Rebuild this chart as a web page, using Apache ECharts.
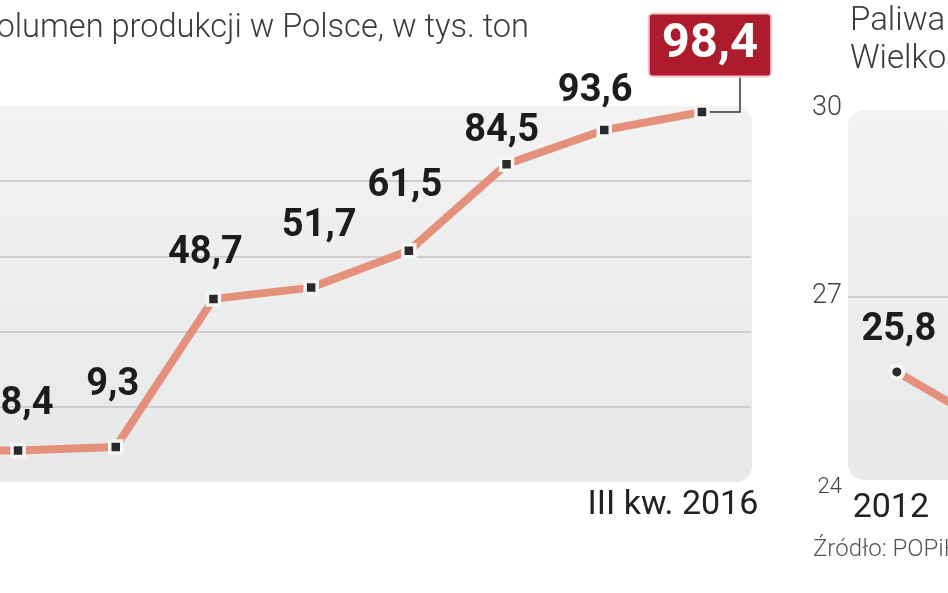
<!DOCTYPE html>
<html>
<head>
<meta charset="utf-8">
<script src="https://cdn.jsdelivr.net/npm/echarts@6/dist/echarts.min.js"></script>
<style>
html,body{margin:0;padding:0;background:#fff;}
#c{width:948px;height:593px;}
</style>
</head>
<body>
<div id="c"></div>
<script>
// ---- data ----
const prodCategories = ['', '', '', '', '', '', '', '', 'III kw. 2016'];
const prodValues = [8.2, 8.4, 9.3, 48.7, 51.7, 61.5, 84.5, 93.6, 98.4];
const prodTitle = 'Wolumen produkcji w Polsce, w tys. ton';

const fuelCategories = ['2012', '2013'];
const fuelValues = [25.8, 24.9];
const fuelTitle1 = 'Paliwa';
const fuelTitle2 = 'Wielkość';
const sourceText = 'Źródło: POPiHN';

// ---- layout (not data) ----
const labelOffsets = [[0,-46],[9,-46],[-3,-62],[-8,-45],[8,-61],[-4,-64],[-5,-33],[-9,-39],[8,-67]];
const LINE_COLOR = '#e5907b';
const fmt = v => String(v).replace('.', ',');
const FONT = 'Roboto, "Liberation Sans", sans-serif';

const lastIdx = prodValues.length - 1;

const prodData = prodValues.map((v, i) => {
  if (i === lastIdx) {
    return {
      value: v,
      label: {
        offset: labelOffsets[i],
        color: '#ffffff',
        fontSize: 49,
        lineHeight: 52,
        backgroundColor: '#ae1b2d',
        borderColor: '#ecc9cc',
        borderWidth: 2,
        borderRadius: 3,
        padding: [5, 12, 4, 12]
      }
    };
  }
  return { value: v, label: { offset: labelOffsets[i] } };
});

const option = {
  animation: false,
  backgroundColor: '#ffffff',
  grid: [
    { left: -128.5, top: 106, width: 879.3, height: 376, containLabel: false, outerBoundsMode: 'none' },
    { left: 848, top: 108, width: 195.4, height: 377, containLabel: false, outerBoundsMode: 'none' }
  ],
  xAxis: [
    {
      type: 'category', gridIndex: 0, data: prodCategories, boundaryGap: true,
      axisLine: { show: false }, axisTick: { show: false },
      axisLabel: {
        show: true, interval: 0, margin: 6,
        formatter: v => v ? '{a|' + v + '}' : '',
        rich: { a: { fontFamily: FONT, fontSize: 34, color: '#222', padding: [0, 58, 0, 0] } }
      }
    },
    {
      type: 'category', gridIndex: 1, data: fuelCategories, boundaryGap: true,
      axisLine: { show: false }, axisTick: { show: false },
      axisLabel: {
        show: true, interval: 0, margin: 6,
        fontFamily: FONT, fontSize: 34, color: '#222', padding: [0, 12, 0, 0]
      }
    }
  ],
  yAxis: [
    {
      type: 'value', gridIndex: 0, min: 0, max: 100, interval: 20,
      axisLine: { show: false }, axisTick: { show: false }, axisLabel: { show: false },
      splitLine: { show: true, lineStyle: { width: 2, color: ['rgba(0,0,0,0)', '#cfcfcf', '#cfcfcf', '#cfcfcf', '#cfcfcf', 'rgba(0,0,0,0)'] } }
    },
    {
      type: 'value', gridIndex: 1, min: 24, max: 30, interval: 3,
      axisLine: { show: false }, axisTick: { show: false },
      axisLabel: {
        show: true, margin: 6,
        formatter: v => v === 24 ? '{s|' + v + '}' : '{n|' + v + '}',
        rich: {
          n: { fontFamily: FONT, fontWeight: 300, fontSize: 27, color: '#444' },
          s: { fontFamily: FONT, fontWeight: 300, fontSize: 22, color: '#444', padding: [4, 0, 0, 0] }
        }
      },
      splitLine: { show: true, lineStyle: { width: 2, color: ['rgba(0,0,0,0)', '#cfcfcf', 'rgba(0,0,0,0)'] } }
    }
  ],
  graphic: [
    {
      type: 'rect', id: 'bgL', z: -10, silent: true,
      shape: { x: -30, y: 106, width: 782, height: 376, r: 16 },
      style: { fill: new echarts.graphic.LinearGradient(0, 0, 0, 1, [
        { offset: 0, color: '#f2f2f2' }, { offset: 1, color: '#e7e8e8' }]) }
    },
    {
      type: 'rect', id: 'bgR', z: -10, silent: true,
      shape: { x: 848, y: 110, width: 160, height: 370, r: 16 },
      style: { fill: new echarts.graphic.LinearGradient(0, 0, 0, 1, [
        { offset: 0, color: '#f2f2f2' }, { offset: 1, color: '#e7e8e8' }]) }
    },
    {
      type: 'text', id: 'titleL', silent: true,
      style: { text: prodTitle, x: 529, y: 45, textAlign: 'right', textVerticalAlign: 'bottom',
        font: '300 32.6px ' + FONT, fill: '#3a3a3a' }
    },
    {
      type: 'text', id: 'titleR1', silent: true,
      style: { text: fuelTitle1, x: 850, y: 38, textAlign: 'left', textVerticalAlign: 'bottom',
        font: '300 33px ' + FONT, fill: '#3a3a3a' }
    },
    {
      type: 'text', id: 'titleR2', silent: true,
      style: { text: fuelTitle2, x: 850, y: 76, textAlign: 'left', textVerticalAlign: 'bottom',
        font: '300 33px ' + FONT, fill: '#3a3a3a' }
    },
    {
      type: 'text', id: 'src', silent: true,
      style: { text: sourceText, x: 813, y: 562, textAlign: 'left', textVerticalAlign: 'bottom',
        font: '300 24px ' + FONT, fill: '#555' }
    }
  ],
  series: [
    {
      type: 'line', xAxisIndex: 0, yAxisIndex: 0, data: prodData,
      lineStyle: { color: LINE_COLOR, width: 8 },
      symbol: 'rect', symbolSize: 12, showAllSymbol: true,
      itemStyle: { color: '#2a2a2a', borderColor: '#f5f5f5', borderWidth: 3.5 },
      label: {
        show: true, position: 'inside', formatter: p => fmt(p.value),
        fontFamily: FONT, fontWeight: 'bold', fontSize: 38, color: '#1c1c1c'
      },
      z: 3
    },
    {
      type: 'line', xAxisIndex: 1, yAxisIndex: 1,
      data: fuelValues.map((v, i) => ({ value: v, label: { show: i === 0 } })),
      lineStyle: { color: LINE_COLOR, width: 8 },
      symbol: 'circle', symbolSize: 13, showAllSymbol: true,
      itemStyle: { color: '#2a2a2a', borderColor: '#f5f5f5', borderWidth: 4 },
      label: {
        show: true, position: 'inside', offset: [2, -41], formatter: p => fmt(p.value),
        fontFamily: FONT, fontWeight: 'bold', fontSize: 38, color: '#1c1c1c'
      },
      z: 3
    }
  ]
};

const chart = echarts.init(document.getElementById('c'), null, { renderer: 'canvas' });
chart.setOption(option);

// leader line of the highlighted last value
const pt = chart.convertToPixel({ seriesIndex: 0 }, [lastIdx, prodValues[lastIdx]]);
const off = labelOffsets[lastIdx];
const boxBottom = pt[1] + off[1] + 32.5;
chart.setOption({
  graphic: [{
    type: 'polyline', id: 'leader', z: 2, silent: true,
    shape: { points: [[pt[0], pt[1]], [pt[0] + 38, pt[1]], [pt[0] + 38, boxBottom]] },
    style: { stroke: '#333', lineWidth: 1.5, fill: null }
  }]
});
</script>
</body>
</html>
